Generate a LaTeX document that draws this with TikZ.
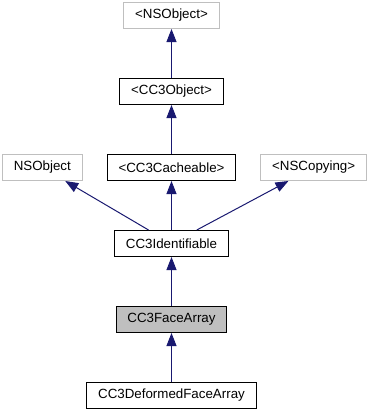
\documentclass[tikz,border=0pt]{standalone}
\usepackage{fontspec}
\setmainfont{Liberation Sans}
\usepackage{tikz}
\usetikzlibrary{arrows.meta, positioning}
\usepackage{xcolor}
\definecolor{edgeblue}{HTML}{191970}
\definecolor{grey75}{HTML}{BFBFBF}

\begin{document}
\begin{tikzpicture}[
  x=0.75pt, y=-0.75pt,
  node distance = 36.75pt and 18pt,
  cls/.style   = {draw, minimum height=19.5pt, inner xsep=8.5pt,
                  font=\fontsize{10pt}{12pt}\selectfont, line width=0.75pt},
  ext/.style   = {cls, draw=grey75},
  cur/.style   = {cls, fill=grey75},
  arr/.style   = {-{Triangle[length=9.75pt, width=7.5pt]}, edgeblue,
                  line width=0.75pt}
]
\useasboundingbox (0,0) rectangle (371,411);
% boxes
\node[cls] (cacheable) at (171.5,167.5) {<CC3Cacheable>};
\node[ext, left=of cacheable] (nsobject) {NSObject};
\node[ext, right=of cacheable] (nscopying) {<NSCopying>};
\node[cls, above=of cacheable] (cc3object) {<CC3Object>};
\node[ext, above=of cc3object] (nsobjproto) {<NSObject>};
\node[cls, below=of cacheable] (identifiable) {CC3Identifiable};
\node[cur, below=of identifiable] (facearray) {CC3FaceArray};
\node[cls, below=of facearray] (deformed) {CC3DeformedFaceArray};
% arrows
\draw[arr] (cc3object) -- (nsobjproto);
\draw[arr] (cacheable) -- (cc3object);
\draw[arr] (identifiable) -- (nsobject);
\draw[arr] (identifiable) -- (cacheable);
\draw[arr] (identifiable) -- (nscopying);
\draw[arr] (facearray) -- (identifiable);
\draw[arr] (deformed) -- (facearray);
\end{tikzpicture}
\end{document}
